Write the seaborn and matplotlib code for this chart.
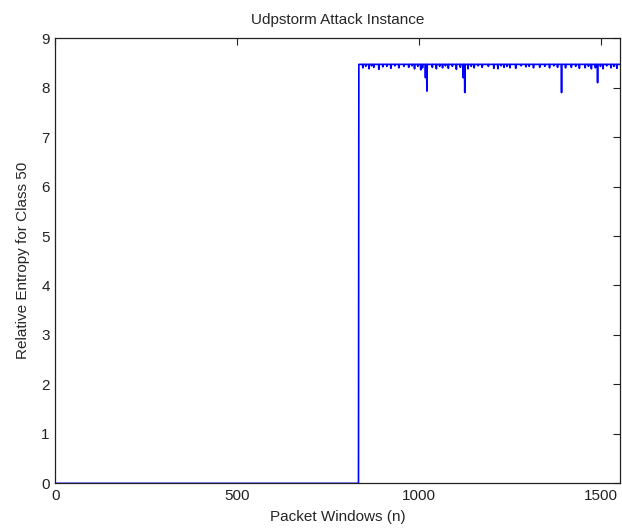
import numpy as np
import pandas as pd
import matplotlib
matplotlib.use("Agg")
import matplotlib.pyplot as plt
import seaborn as sns

# ---- data ----
n_windows = 1552          # number of packet windows shown
attack_start = 834        # first window of the attack
normal_level = 0.0
attack_level = 8.47
dip_windows = [845, 853, 862, 869, 875, 889, 900, 911, 922, 933, 944, 958, 971,
               980, 987, 996, 1004, 1009, 1017, 1021, 1036, 1047, 1056, 1064,
               1072, 1080, 1091, 1102, 1113, 1121, 1125, 1134, 1143, 1151, 1162,
               1173, 1190, 1205, 1216, 1225, 1233, 1241, 1249, 1265, 1280, 1293,
               1302, 1314, 1331, 1345, 1358, 1370, 1380, 1391, 1402, 1418, 1430,
               1440, 1456, 1465, 1473, 1484, 1490, 1498, 1505, 1515, 1527, 1535,
               1543]
dip_values = [8.40, 8.43, 8.38, 8.44, 8.41, 8.37, 8.42, 8.43, 8.39, 8.44, 8.40,
              8.43, 8.41, 8.44, 8.38, 8.43, 8.36, 8.40, 8.20, 7.93, 8.41, 8.38,
              8.43, 8.40, 8.44, 8.39, 8.43, 8.37, 8.41, 8.20, 7.90, 8.38, 8.43,
              8.40, 8.44, 8.41, 8.43, 8.39, 8.38, 8.44, 8.41, 8.43, 8.40, 8.39,
              8.44, 8.42, 8.43, 8.40, 8.41, 8.43, 8.40, 8.44, 8.41, 7.90, 8.40,
              8.41, 8.43, 8.39, 8.40, 8.43, 8.38, 8.40, 8.10, 8.43, 8.38, 8.44,
              8.40, 8.43, 8.39]
x_ticks = [0, 500, 1000, 1500]
y_ticks = [0, 1, 2, 3, 4, 5, 6, 7, 8, 9]

windows = np.arange(1, n_windows + 1)
entropy = np.where(windows < attack_start, normal_level, attack_level)
for w, v in zip(dip_windows, dip_values):
    entropy[windows == w] = v
df = pd.DataFrame({"window": windows, "entropy": entropy})

sns.set_style("white")
plt.rcParams["font.family"] = ["Liberation Sans", "DejaVu Sans"]

fig = plt.figure(figsize=(6.22, 5.30), dpi=100)
ax = fig.add_axes([0.089, 0.088, 0.908, 0.840])
sns.lineplot(data=df, x="window", y="entropy", ax=ax, color="#0000ff",
             linewidth=1.2, estimator=None)

ax.set_xlim(0, n_windows)
ax.set_ylim(0, 9)
ax.set_xticks(x_ticks)
ax.set_yticks(y_ticks)
ax.tick_params(direction="in", length=5, width=0.8, top=True, right=True,
               labelsize=11, colors="#222222", pad=4)
for s in ax.spines.values():
    s.set_color("#222222")
    s.set_linewidth(0.9)
    s.set_visible(True)

ax.set_title("Udpstorm Attack Instance", fontsize=11, pad=10)
ax.set_xlabel("Packet Windows (n)", fontsize=11, labelpad=5)
ax.set_ylabel("Relative Entropy for Class 50", fontsize=11, labelpad=8)

fig.savefig("out.png", dpi=100)
